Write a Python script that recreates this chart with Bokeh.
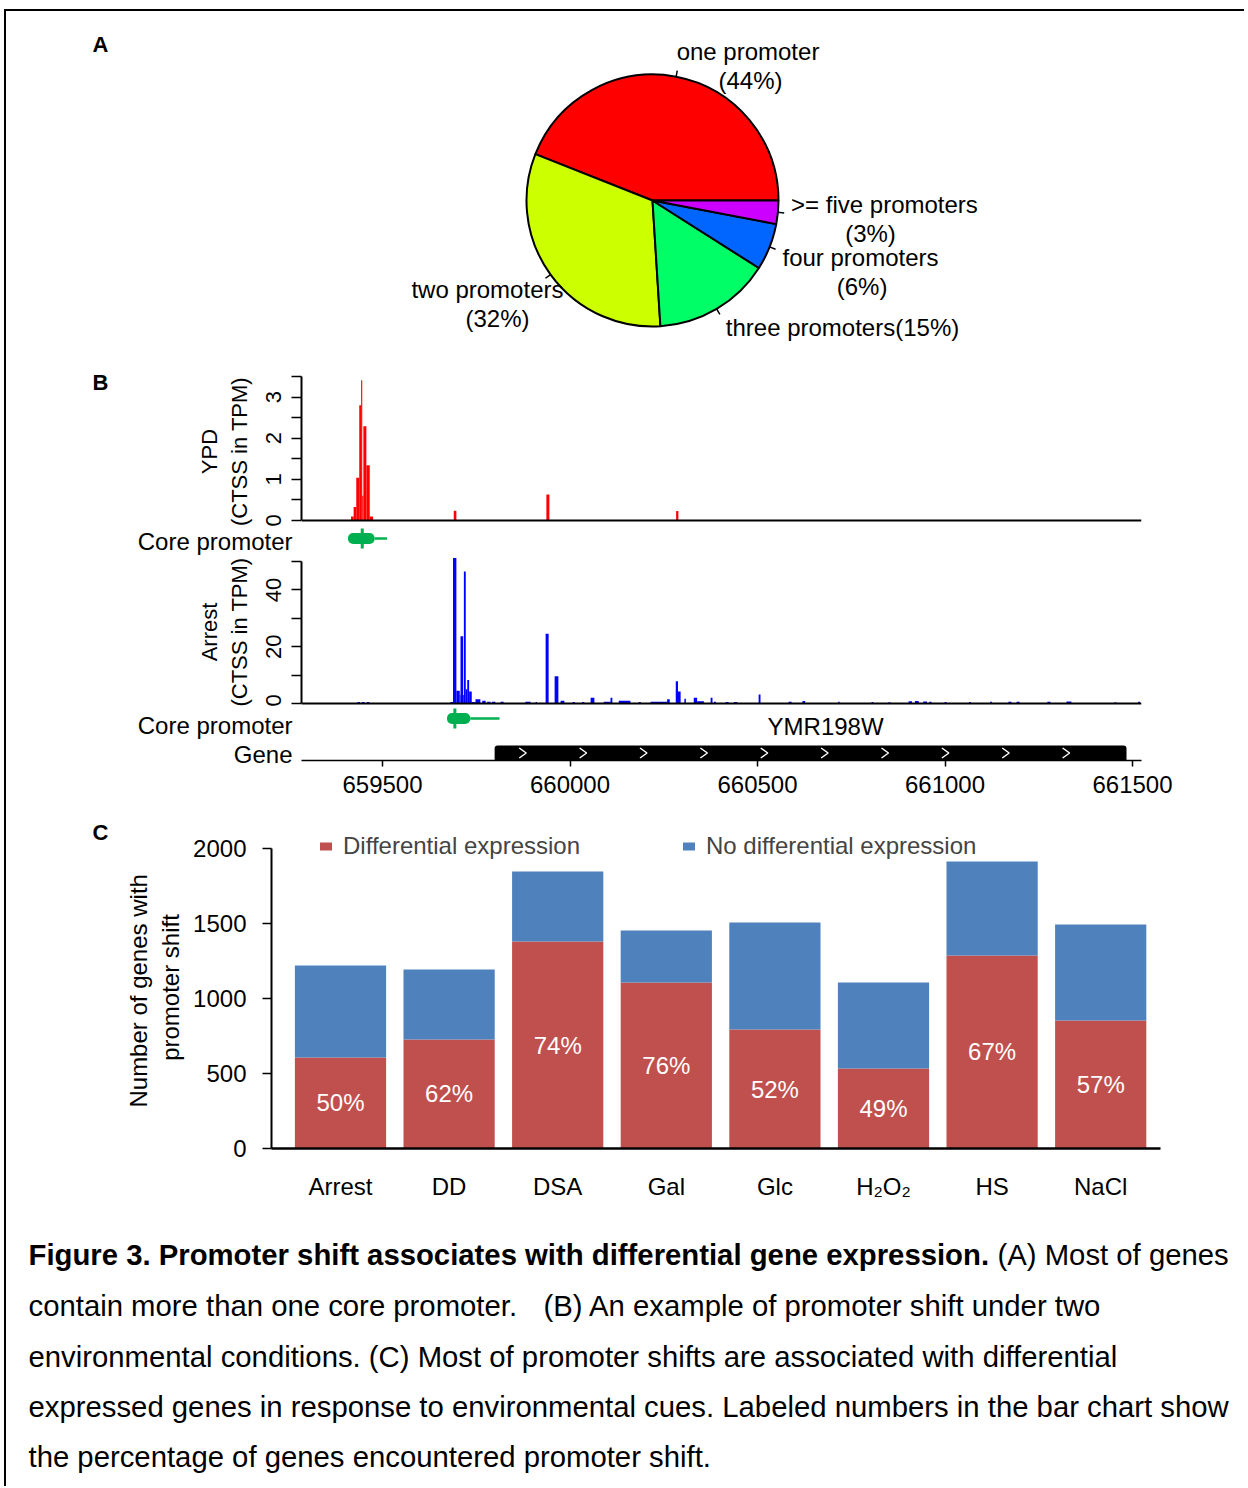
import numpy as np
from bokeh.plotting import figure
from bokeh.models import (Range1d, FixedTicker, Span, Legend, LegendItem,
                          NumeralTickFormatter, ColumnDataSource)
from bokeh.layouts import column, row
from bokeh.embed import file_html
from bokeh.resources import INLINE
from bokeh.core.properties import value

FONT = "Liberation Sans"

# ---------------- Panel A data ----------------
pie_names = ["one promoter", "two promoters", "three promoters", "four promoters", ">= five promoters"]
pie_pct = [44, 32, 15, 6, 3]
pie_colors = ["#FF0000", "#CCFF00", "#00FF66", "#0066FF", "#CC00FF"]

# ---------------- Panel B data ----------------
view_start, view_end = 659284, 661524
genome_ticks = [659500, 660000, 660500, 661000, 661500]

ypd_start = [659416, 659423, 659430, 659438, 659443, 659446, 659449, 659457, 659466, 659690, 659937, 660283]
ypd_end = [659423, 659430, 659438, 659443, 659446, 659449, 659457, 659466, 659475, 659697, 659945, 660289]
ypd_tpm = [0.10, 0.33, 1.04, 2.80, 3.41, 0.60, 2.29, 1.34, 0.10, 0.24, 0.63, 0.23]

arr_start = [659433, 659445, 659458, 659681, 659688, 659697, 659706, 659708, 659715, 659717, 659722, 659726,
             659731, 659738, 659748, 659766, 659779, 659792, 659815, 659881, 659908, 659935, 659959, 659975,
             660007, 660032, 660055, 660090, 660108, 660130, 660183, 660215, 660259, 660282, 660288, 660305,
             660330, 660339, 660375, 660384, 660415, 660437, 660503, 660583, 660620, 660715, 660804, 660849,
             660903, 660920, 660942, 660958, 660999, 661064, 661120, 661169, 661191, 661273, 661324, 661452,
             661515]
arr_end = [659440, 659452, 659465, 659688, 659697, 659706, 659708, 659715, 659717, 659722, 659726, 659731,
           659738, 659748, 659761, 659775, 659788, 659801, 659823, 659895, 659912, 659943, 659969, 659985,
           660013, 660038, 660065, 660108, 660113, 660161, 660189, 660259, 660266, 660288, 660295, 660309,
           660339, 660357, 660380, 660389, 660423, 660446, 660508, 660591, 660627, 660719, 660809, 660855,
           660912, 660930, 660952, 660964, 661004, 661069, 661125, 661177, 661199, 661281, 661337, 661457,
           661520]
arr_tpm = [0.5, 0.5, 0.5, 0.5, 51.2, 4.5, 3.0, 23.7, 3.0, 46.5, 5.0, 8.3,
           4.2, 0.5, 1.5, 1.0, 0.6, 0.6, 0.6, 0.6, 0.5, 24.6, 9.6, 1.0,
           0.5, 0.5, 2.0, 0.6, 2.0, 1.0, 0.5, 0.6, 1.5, 7.8, 4.2, 1.7,
           2.0, 0.8, 2.0, 0.6, 0.5, 0.5, 3.2, 0.6, 0.9, 0.6, 0.5, 0.4,
           0.8, 0.9, 0.7, 0.6, 0.5, 0.5, 0.6, 0.6, 0.6, 0.6, 0.7, 0.4,
           0.6]

# core promoters: [YPD, Arrest]
cp_start = [659408, 659672]
cp_end = [659479, 659734]
cp_tail = [659512, 659812]
cp_dominant = [659446, 659693]

gene_name = "YMR198W"
gene_start, gene_end = 659799, 661484

# ---------------- Panel C data ----------------
conditions = ["Arrest", "DD", "DSA", "Gal", "Glc", "H\u2082O\u2082", "HS", "NaCl"]
diff_expr = [607, 727, 1380, 1107, 793, 533, 1287, 853]
no_diff_expr = [613, 466, 467, 346, 714, 574, 626, 640]
pct_labels = ["50%", "62%", "74%", "76%", "52%", "49%", "67%", "57%"]
legend_labels = ["Differential expression", "No differential expression"]

# ---------------- caption ----------------
caption_bold = "Figure 3. Promoter shift associates with differential gene expression."
caption_lines = [
    "(A) Most of genes",
    "contain more than one core promoter.",
    "(B) An example of promoter shift under two",
    "environmental conditions. (C) Most of promoter shifts are associated with differential",
    "expressed genes in response to environmental cues. Labeled numbers in the bar chart show",
    "the percentage of genes encountered promoter shift.",
]

# ---------------- layout geometry (page pixels) ----------------
OX, OY = 6, 11          # top-left of content (inside the border)
RIGHT = 1244            # right edge of content
W = RIGHT - OX
GREEN = "#00B050"
RED_BAR, BLUE_BAR = "#C0504D", "#4F81BD"


def base_fig(**kw):
    p = figure(output_backend="svg", toolbar_location=None, frame_align=False, **kw)
    p.outline_line_color = None
    for g in p.grid:
        g.visible = False
    p.background_fill_color = "white"
    p.border_fill_color = "white"
    return p


def style_axis(ax, size="22px", label_size="22px"):
    ax.axis_line_color = "black"
    ax.major_tick_line_color = "black"
    ax.major_label_text_font = FONT
    ax.major_label_text_font_size = size
    ax.major_label_text_color = "black"
    ax.axis_label_text_font = FONT
    ax.axis_label_text_font_size = label_size
    ax.axis_label_text_font_style = "normal"
    ax.axis_label_text_color = "black"


def text_fig(x0, x1, y0, y1):
    """A blank figure whose data units are page pixels (y downwards)."""
    return base_fig(width=x1 - x0, height=y1 - y0, x_range=Range1d(x0, x1), y_range=Range1d(y1, y0),
                    x_axis_location=None, y_axis_location=None, min_border=0)


def name_axis(p, tick, name, standoff=9):
    ax = p.yaxis[0]
    style_axis(ax, size="24px")
    ax.ticker = FixedTicker(ticks=[tick], minor_ticks=[])
    ax.major_label_overrides = {tick: name}
    ax.axis_line_color = None
    ax.major_tick_line_color = None
    ax.minor_tick_line_color = None
    ax.major_tick_out = 0
    ax.major_tick_in = 0
    ax.major_label_standoff = standoff


# ================= Panel A: pie =================
R = 126.0
CX, CY = 652, 200
F1_TOP, F1_BOT = OY, 366
p1 = base_fig(width=W, height=F1_BOT - F1_TOP,
              x_range=Range1d((OX - CX) / R, (RIGHT - CX) / R),
              y_range=Range1d((CY - F1_BOT) / R, (CY - F1_TOP) / R),
              x_axis_location=None, y_axis_location=None, min_border=0)
frac = np.array(pie_pct, dtype=float) / sum(pie_pct)
ends = np.cumsum(frac) * 2 * np.pi
starts = ends - frac * 2 * np.pi
mids = (starts + ends) / 2
p1.wedge(x=0, y=0, radius=1, start_angle=starts, end_angle=ends, direction="anticlock",
         fill_color=pie_colors, line_color="black", line_width=2)
p1.segment(x0=np.cos(mids), y0=np.sin(mids), x1=1.05 * np.cos(mids), y1=1.05 * np.sin(mids),
           line_color="black", line_width=1.5)

pie_label_pos = {0: [(0.758, 1.183), (0.778, 0.952)],
                 1: [(-1.310, -0.706), (-1.230, -0.937)],
                 2: [(1.508, -1.008)],
                 3: [(1.651, -0.452), (1.663, -0.683)],
                 4: [(1.841, -0.032), (1.730, -0.262)]}
lx, ly, lt = [], [], []
for i, name in enumerate(pie_names):
    pos = pie_label_pos[i]
    texts = [f"{name}({pie_pct[i]}%)"] if len(pos) == 1 else [name, f"({pie_pct[i]}%)"]
    for (x, y), t in zip(pos, texts):
        lx.append(x); ly.append(y); lt.append(t)
p1.text(x=lx, y=ly, text=lt, text_font=value(FONT), text_font_size="24px",
        text_align="center", text_baseline="middle", text_color="black")
p1.text(x=[(100 - CX) / R], y=[(CY - 44) / R], text=["A"], text_font=value(FONT),
        text_font_size="22px", text_font_style="bold", text_align="center", text_baseline="middle")

# ================= Panel B =================
FRAME_L, FRAME_R = 301, 1141
PX_BP = (FRAME_R - FRAME_L) / (view_end - view_start)


def track_yaxis(p, ticks, minor, bounds, label):
    ax = p.yaxis[0]
    style_axis(ax, size="22px", label_size="22px")
    ax.ticker = FixedTicker(ticks=ticks, minor_ticks=minor)
    ax.bounds = bounds
    ax.major_label_orientation = "vertical"
    ax.major_tick_out = 10
    ax.major_tick_in = 0
    ax.minor_tick_out = 10
    ax.minor_tick_in = 0
    ax.minor_tick_line_color = "black"
    ax.axis_line_width = 2
    ax.major_tick_line_width = 1.5
    ax.minor_tick_line_width = 1.5
    ax.major_label_standoff = 10
    ax.axis_label = label
    ax.axis_label_standoff = 12


def draw_core_promoter(p, i, row_y):
    p.quad(left=[cp_start[i]], right=[cp_end[i]], bottom=row_y - 5.5, top=row_y + 5.5,
           fill_color=GREEN, line_color=None, border_radius=5)
    p.segment(x0=[cp_end[i]], y0=row_y, x1=[cp_tail[i]], y1=row_y, line_color=GREEN, line_width=2.5)
    p.segment(x0=[cp_dominant[i]], y0=row_y - 10, x1=[cp_dominant[i]], y1=row_y + 10,
              line_color=GREEN, line_width=3)


def strip_fig(y0, y1, zero_y):
    """Annotation strip sharing the genomic x scale; y in pixels, 0 at page row zero_y, up positive."""
    return base_fig(width=W, height=y1 - y0, x_range=Range1d(view_start, view_end),
                    y_range=Range1d(-(y1 - zero_y), zero_y - y0),
                    x_axis_location=None, y_axis_location="left",
                    min_border_left=FRAME_L - OX, min_border_right=RIGHT - FRAME_R,
                    min_border_top=0, min_border_bottom=0)


# ---- "B" letter + YPD track ----
F2_TOP, F2_BOT = 366, 526
YPD_TOP, YPD_ZERO, YPD_MAX = 376, 520, 3.5
ypd_px = (YPD_ZERO - YPD_TOP) / YPD_MAX
B_SPLIT = 160
pB = text_fig(OX, B_SPLIT, F2_TOP, F2_BOT)
pB.text(x=[100], y=[382], text=["B"], text_font=value(FONT), text_font_size="22px",
        text_font_style="bold", text_align="center", text_baseline="middle")
p2 = base_fig(width=RIGHT - B_SPLIT, height=F2_BOT - F2_TOP,
              x_range=Range1d(view_start, view_end),
              y_range=Range1d(-(F2_BOT - YPD_ZERO) / ypd_px, YPD_MAX),
              x_axis_location=None, y_axis_location="left",
              min_border_left=FRAME_L - B_SPLIT, min_border_right=RIGHT - FRAME_R,
              min_border_top=YPD_TOP - F2_TOP, min_border_bottom=0)
p2.quad(left=ypd_start, right=ypd_end, bottom=0, top=ypd_tpm, fill_color="#FF0000", line_color=None)
p2.add_layout(Span(location=0, dimension="width", line_color="black", line_width=2))
track_yaxis(p2, [0, 1, 2, 3], [0.5, 1.5, 2.5, 3.5], (0, 3.5), "YPD\n(CTSS in TPM)")

# ---- YPD core promoter strip ----
CP1_TOP, CP1_BOT, CP1_Y = 526, 556, 538
pcp1 = strip_fig(CP1_TOP, CP1_BOT, CP1_Y)
draw_core_promoter(pcp1, 0, 0)
name_axis(pcp1, 0, "Core promoter")

# ---- Arrest track ----
F3_TOP, F3_BOT = 556, 706
ARR_FRAME_TOP, ARR_TOP, ARR_ZERO, ARR_MAX = 557, 561, 703, 50
arr_px = (ARR_ZERO - ARR_TOP) / ARR_MAX
p3 = base_fig(width=W, height=F3_BOT - F3_TOP,
              x_range=Range1d(view_start, view_end),
              y_range=Range1d(-(F3_BOT - ARR_ZERO) / arr_px, ARR_MAX + (ARR_TOP - ARR_FRAME_TOP) / arr_px),
              x_axis_location=None, y_axis_location="left",
              min_border_left=FRAME_L - OX, min_border_right=RIGHT - FRAME_R,
              min_border_top=ARR_FRAME_TOP - F3_TOP, min_border_bottom=0)
p3.quad(left=arr_start, right=arr_end, bottom=0, top=arr_tpm, fill_color="#0000FF", line_color=None)
p3.add_layout(Span(location=0, dimension="width", line_color="black", line_width=2))
track_yaxis(p3, [0, 20, 40], [10, 30, 50], (0, 50), "Arrest\n(CTSS in TPM)")

# ---- Arrest core promoter strip + gene name ----
CP2_TOP, CP2_BOT, CP2_Y = 706, 740, 718
pcp2 = strip_fig(CP2_TOP, CP2_BOT, CP2_Y)
draw_core_promoter(pcp2, 1, 0)
name_axis(pcp2, CP2_Y - 725, "Core promoter")
pcp2.text(x=[(gene_start + gene_end) / 2 + 40], y=[CP2_Y - 726], text=[gene_name],
          text_font=value(FONT), text_font_size="24px", text_align="center", text_baseline="middle")

# ---- gene model + genomic axis ----
G_TOP, G_AXIS, G_BOT = 740, 760, 808
pg = base_fig(width=W, height=G_BOT - G_TOP, x_range=Range1d(view_start, view_end),
              y_range=Range1d(0, G_AXIS - G_TOP),
              x_axis_location="below", y_axis_location="left",
              min_border_left=FRAME_L - OX, min_border_right=RIGHT - FRAME_R,
              min_border_top=0, min_border_bottom=G_BOT - G_AXIS)
GENE_H = 15
pg.quad(left=[gene_start], right=[gene_end], bottom=0, top=GENE_H,
        fill_color="black", line_color=None, border_radius=[3, 3, 0, 0])
chev = np.arange(gene_start + 75, gene_end - 140, 161)
cw = 7 / PX_BP
pg.multi_line(xs=[[c - cw / 2, c + cw / 2, c - cw / 2] for c in chev],
              ys=[[GENE_H / 2 + 5, GENE_H / 2, GENE_H / 2 - 5] for _ in chev],
              line_color="white", line_width=1.5)
name_axis(pg, G_AXIS - 753, "Gene")
xa = pg.xaxis[0]
style_axis(xa, size="24px")
xa.ticker = FixedTicker(ticks=genome_ticks, minor_ticks=[])
xa.formatter = NumeralTickFormatter(format="0")
xa.major_tick_out = 6
xa.major_tick_in = 0
xa.axis_line_width = 1.5
xa.major_tick_line_width = 1.5
xa.major_label_standoff = 9

# ================= Panel C: bars =================
F4_TOP, F4_BOT = 808, 1215
C_SPLIT = 120
BC_L, BC_R, BC_FT, BC_T, BC_B = 271, 1160, 826, 848, 1148
Y_PX = (BC_B - BC_T) / 2000
BAR_X0, BAR_STEP = 340, 108.6
pC = text_fig(OX, C_SPLIT, F4_TOP, F4_BOT)
pC.text(x=[100], y=[832], text=["C"], text_font=value(FONT), text_font_size="22px",
        text_font_style="bold", text_align="center", text_baseline="middle")

src = ColumnDataSource(dict(x=list(range(len(conditions))), diff=diff_expr, nodiff=no_diff_expr,
                            lab_y=[d / 2 for d in diff_expr], lab=pct_labels))
p4 = base_fig(width=RIGHT - C_SPLIT, height=F4_BOT - F4_TOP,
              x_range=Range1d(-(BAR_X0 - BC_L) / BAR_STEP, (BC_R - BAR_X0) / BAR_STEP),
              y_range=Range1d(0, 2000 + (BC_T - BC_FT) / Y_PX),
              min_border_left=BC_L - C_SPLIT, min_border_right=RIGHT - BC_R,
              min_border_top=BC_FT - F4_TOP, min_border_bottom=F4_BOT - BC_B)
rs = p4.vbar_stack(["diff", "nodiff"], x="x", width=0.84, fill_color=[RED_BAR, BLUE_BAR],
                   line_color=None, source=src)
p4.text(x="x", y="lab_y", text="lab", source=src, text_color="white", text_font=value(FONT),
        text_font_size="24px", text_align="center", text_baseline="middle")
legend = Legend(items=[LegendItem(label=legend_labels[0], renderers=[rs[0]]),
                       LegendItem(label=legend_labels[1], renderers=[rs[1]])],
                orientation="horizontal", location=(318 - BC_L, BC_B - 846 - 14), glyph_width=15,
                glyph_height=10, label_standoff=10, spacing=101, padding=0, margin=0,
                border_line_color=None, background_fill_alpha=0, label_text_font=FONT,
                label_text_font_size="24px", label_height=28)
p4.add_layout(legend)
ya = p4.yaxis[0]
style_axis(ya, size="24px", label_size="24px")
ya.ticker = FixedTicker(ticks=[0, 500, 1000, 1500, 2000], minor_ticks=[])
ya.bounds = (0, 2000)
ya.major_tick_out = 9
ya.major_tick_in = 0
ya.axis_line_width = 2
ya.major_tick_line_width = 1.5
ya.major_label_standoff = 16
ya.axis_label = "Number  of genes with\npromoter shift"
ya.axis_label_standoff = 6
xb = p4.xaxis[0]
style_axis(xb, size="24px")
xb.ticker = FixedTicker(ticks=list(range(len(conditions))), minor_ticks=[])
xb.major_label_overrides = {i: c for i, c in enumerate(conditions)}
xb.major_tick_out = 0
xb.major_tick_in = 0
xb.major_tick_line_color = None
xb.axis_line_width = 2.5
xb.major_label_standoff = 24

# ================= Caption =================
F5_TOP, F5_BOT = 1215, 1486
CAP_SIZE = "29.3px"
p5 = text_fig(OX, RIGHT, F5_TOP, F5_BOT)
p5.text(x=[28], y=[1254], text=[caption_bold], text_font=value(FONT), text_font_size=CAP_SIZE,
        text_font_style="bold", text_baseline="middle", text_align="left")
cap_x = [997, 28, 543, 28, 28, 28]
cap_y = [1254, 1305, 1305, 1356, 1406, 1456]
p5.text(x=cap_x, y=cap_y, text=caption_lines, text_font=value(FONT), text_font_size=CAP_SIZE,
        text_baseline="middle", text_align="left")

layout = column(p1, row(pB, p2, spacing=0), pcp1, p3, pcp2, pg, row(pC, p4, spacing=0), p5,
                spacing=0,
                styles={"margin-top": f"{OY - 2}px", "margin-left": f"{OX - 2}px",
                        "border-top": "2px solid black", "border-left": "2px solid black"})
open("out.html", "w").write(file_html(layout, INLINE))
